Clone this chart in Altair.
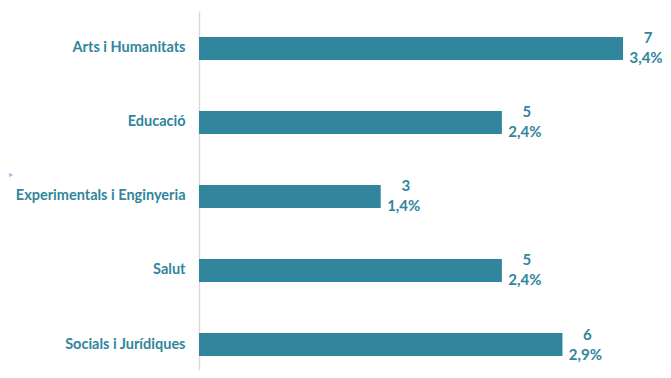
import altair as alt
import pandas as pd

categories = ["Arts i Humanitats", "Educació", "Experimentals i Enginyeria", "Salut", "Socials i Jurídiques"]
counts = [7, 5, 3, 5, 6]
percents = ["3,4%", "2,4%", "1,4%", "2,4%", "2,9%"]

df = pd.DataFrame({"cat": categories, "n": counts, "pct": percents})

COLOR = "#31859C"
FONT = "Lato"

y = alt.Y("cat:N", sort=categories, title=None,
          scale=alt.Scale(paddingInner=0.689, paddingOuter=0.27, align=0.65),
          axis=alt.Axis(labelFont=FONT, labelFontSize=14.5, labelFontWeight="bold",
                        labelColor=COLOR, labelPadding=14, ticks=False, labelLimit=300,
                        domainColor="#d9d9d9", domainWidth=1.5))
x = alt.X("n:Q", title=None, axis=None, scale=alt.Scale(domain=[0, 7.66], nice=False))

base = alt.Chart(df).encode(y=y, x=x)

bars = base.mark_bar(color=COLOR)
num = base.mark_text(font=FONT, fontSize=15, fontWeight="bold", color=COLOR,
                     align="center", baseline="middle", dx=25, dy=-10).encode(text="n:Q")
pct = base.mark_text(font=FONT, fontSize=15, fontWeight="bold", color=COLOR,
                     align="center", baseline="middle", dx=23, dy=10).encode(text="pct:N")

tri = alt.Chart(pd.DataFrame({"a": [0]})).mark_point(
    shape="triangle-right", filled=True, size=20, color="#8ea9db", opacity=0.8, clip=False
).encode(x=alt.value(-188), y=alt.value(164))

chart = alt.layer(bars, num, pct, tri).properties(
    width=464, height=359,
    autosize=alt.AutoSizeParams(type="none"),
    padding={"left": 191, "top": 3, "right": 0, "bottom": 0},
).configure_view(stroke=None)

chart.save("out.html", embed_options={"renderer": "svg", "actions": False})
